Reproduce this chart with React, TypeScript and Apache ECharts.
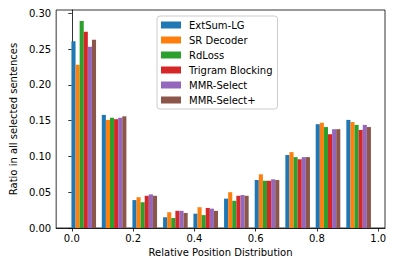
import React, { useEffect, useRef } from "react";
import * as echarts from "echarts";

const binCenters = [0.039, 0.138, 0.238, 0.338, 0.437, 0.537, 0.637, 0.737, 0.836, 0.936];
const seriesNames = ["ExtSum-LG", "SR Decoder", "RdLoss", "Trigram Blocking", "MMR-Select", "MMR-Select+"];
const extSumLG = [0.261, 0.158, 0.039, 0.015, 0.020, 0.041, 0.067, 0.102, 0.145, 0.151];
const srDecoder = [0.228, 0.151, 0.043, 0.022, 0.029, 0.050, 0.075, 0.106, 0.147, 0.148];
const rdLoss = [0.289, 0.154, 0.036, 0.014, 0.018, 0.038, 0.066, 0.099, 0.141, 0.144];
const trigramBlocking = [0.274, 0.152, 0.045, 0.024, 0.028, 0.045, 0.066, 0.096, 0.131, 0.137];
const mmrSelect = [0.253, 0.154, 0.047, 0.024, 0.027, 0.046, 0.068, 0.099, 0.138, 0.144];
const mmrSelectPlus = [0.263, 0.156, 0.045, 0.021, 0.024, 0.045, 0.067, 0.099, 0.138, 0.141];
const yTicks = [0, 0.05, 0.1, 0.15, 0.2, 0.25, 0.3];
const xTicks = [0, 0.2, 0.4, 0.6, 0.8, 1.0];
const colors = ["#1f77b4", "#ff7f0e", "#2ca02c", "#d62728", "#9467bd", "#8c564b"];

const allSeries = [extSumLG, srDecoder, rdLoss, trigramBlocking, mmrSelect, mmrSelectPlus];
const FONT = "DejaVu Sans";

export default function App() {
  const ref = useRef<HTMLDivElement>(null);
  useEffect(() => {
    if (!ref.current) return;
    const chart = echarts.init(ref.current, null, { renderer: "svg" });
    chart.setOption({
      animation: false,
      textStyle: { fontFamily: FONT },
      grid: { left: 50, top: 10, right: 10, bottom: 38, show: true, borderColor: "#000", borderWidth: 0.8, backgroundColor: "transparent" },
      legend: {
        orient: "vertical",
        left: 157,
        top: 16,
        itemWidth: 20,
        itemHeight: 7,
        itemGap: 3,
        padding: [3, 5, 3, 4],
        borderColor: "#ccc",
        borderWidth: 1,
        borderRadius: 3,
        backgroundColor: "rgba(255,255,255,0.8)",
        icon: "rect",
        textStyle: { fontFamily: FONT, fontSize: 10, color: "#000", padding: [0, 0, 0, 3], height: 12, lineHeight: 12 },
        data: seriesNames,
      },
      xAxis: {
        type: "value",
        min: -0.051,
        max: 1.022,
        name: "Relative Position Distribution",
        nameLocation: "middle",
        nameGap: 19,
        nameTextStyle: { fontFamily: FONT, fontSize: 10, color: "#000" },
        axisLine: { show: true, lineStyle: { color: "#000", width: 0.8 } },
        axisTick: { show: true, length: 3.5, lineStyle: { color: "#000", width: 0.8 }, customValues: xTicks },
        axisLabel: { fontFamily: FONT, fontSize: 10, color: "#000", margin: 5, customValues: xTicks, formatter: (v: number) => v.toFixed(1) },
        splitLine: { show: false },
      },
      yAxis: {
        type: "value",
        min: 0,
        max: 0.3045,
        name: "Ratio in all selected sentences",
        nameLocation: "middle",
        nameGap: 33,
        nameTextStyle: { fontFamily: FONT, fontSize: 10, color: "#000" },
        axisLine: { show: true, lineStyle: { color: "#000", width: 0.8 } },
        axisTick: { show: true, length: 3.5, lineStyle: { color: "#000", width: 0.8 }, customValues: yTicks },
        axisLabel: { fontFamily: FONT, fontSize: 10, color: "#000", margin: 5, customValues: yTicks, formatter: (v: number) => v.toFixed(2) },
        splitLine: { show: false },
      },
      series: allSeries.map((vals, i) => ({
        type: "bar",
        name: seriesNames[i],
        data: vals.map((v, k) => [binCenters[k], v]),
        barWidth: 4.1,
        barGap: "0%",
        itemStyle: { color: colors[i] },
      })),
    });
    return () => chart.dispose();
  }, []);
  return <div ref={ref} style={{ width: 395, height: 266, position: "absolute", left: 0, top: 0 }} />;
}
